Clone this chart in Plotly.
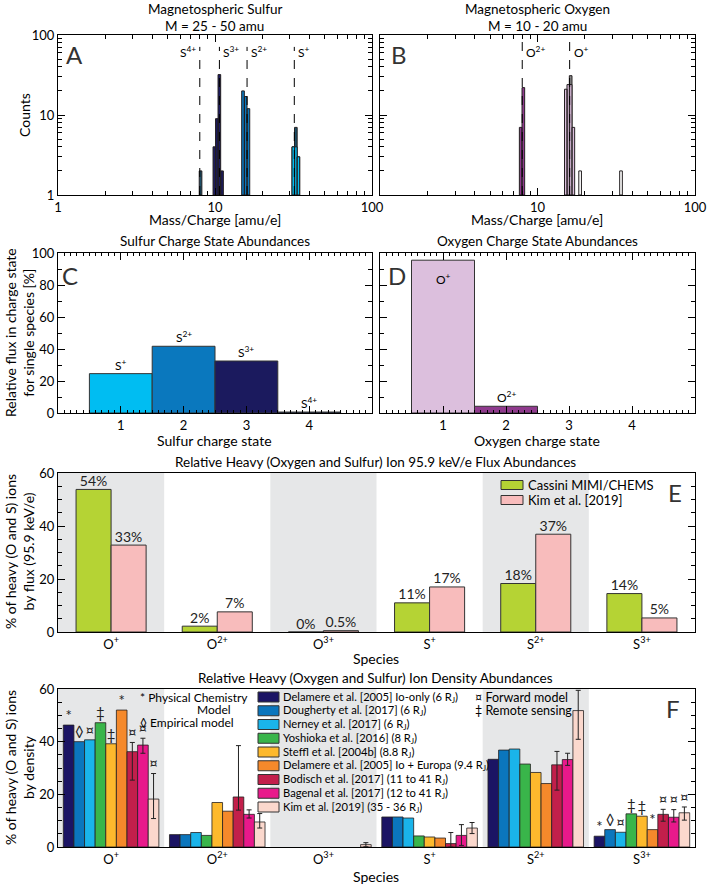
import numpy as np
import plotly.graph_objects as go

W, H = 709, 885
FONT = "Lato, 'Open Sans', 'DejaVu Sans', sans-serif"

# ---------------- Panel A: sulfur mass/charge histogram ----------------
s4_centers = [8.09]
s4_counts = [2]
s3_centers = [9.91, 10.28, 10.66, 11.09]
s3_counts = [4, 9, 32, 2]
s2_centers = [15.08, 15.69, 16.32]
s2_counts = [20, 17, 12]
s1_centers = [31.55, 32.73, 33.96]
s1_counts_total = [4, 7, 3]
s1_counts_front = [4, 4, 3]
sulfur_lines = [8.0, 10.67, 16.0, 32.0]
sulfur_line_labels = ["S<sup>4+</sup>", "S<sup>3+</sup>", "S<sup>2+</sup>", "S<sup>+</sup>"]

# ---------------- Panel B: oxygen mass/charge histogram ----------------
o2_centers = [7.82, 8.13]
o2_counts = [7, 22]
o1_overlap_centers = [16.24]
o1_overlap_counts = [31]
o1_centers = [15.13, 15.69, 16.24, 16.89]
o1_counts = [21, 24, 24, 7]
o_other_centers = [18.65, 33.9]
o_other_counts = [2, 2]
oxygen_lines = [8.0, 16.0]
oxygen_line_labels = ["O<sup>2+</sup>", "O<sup>+</sup>"]

# ---------------- Panels C, D: charge state abundances ----------------
charge_states = [1, 2, 3, 4]
sulfur_flux = [24.6, 41.7, 32.5, 0.6]
sulfur_state_labels = ["S<sup>+</sup>", "S<sup>2+</sup>", "S<sup>3+</sup>", "S<sup>4+</sup>"]
oxygen_flux = [95.5, 4.2, 0, 0]
oxygen_state_labels = ["O<sup>+</sup>", "O<sup>2+</sup>", "", ""]

# ---------------- Panel E: flux abundances ----------------
species = ["O<sup>+</sup>", "O<sup>2+</sup>", "O<sup>3+</sup>",
           "S<sup>+</sup>", "S<sup>2+</sup>", "S<sup>3+</sup>"]
cassini_flux = [53.8, 2.2, 0.0, 11.0, 18.3, 14.5]
kim_flux = [32.8, 7.6, 0.5, 17.0, 36.9, 5.3]
cassini_labels = ["54%", "2%", "0%", "11%", "18%", "14%"]
kim_labels = ["33%", "7%", "0.5%", "17%", "37%", "5%"]

# ---------------- Panel F: density abundances ----------------
density_refs = [
    "Delamere et al. [2005] Io-only (6 R<sub>J</sub>)",
    "Dougherty et al. [2017] (6 R<sub>J</sub>)",
    "Nerney et al. [2017] (6 R<sub>J</sub>)",
    "Yoshioka et al. [2016] (8 R<sub>J</sub>)",
    "Steffl et al. [2004b] (8.8 R<sub>J</sub>)",
    "Delamere et al. [2005] Io + Europa (9.4 R<sub>J</sub>)",
    "Bodisch et al. [2017] (11 to 41 R<sub>J</sub>)",
    "Bagenal et al. [2017] (12 to 41 R<sub>J</sub>)",
    "Kim et al. [2019] (35 - 36 R<sub>J</sub>)",
]
delamere_io = [46.3, 4.7, None, 11.4, 33.3, 4.1]
dougherty = [40.0, 4.7, None, 11.4, 36.8, 6.6]
nerney = [40.7, 5.5, None, 11.0, 37.2, 5.6]
yoshioka = [47.2, 4.4, None, 4.2, 31.5, 12.6]
steffl = [39.2, 16.9, None, 3.8, 28.3, 11.7]
delamere_ioeu = [52.0, 13.6, None, 3.4, 24.1, 6.6]
bodisch = [36.2, 19.0, None, 1.3, 31.2, 12.4]
bagenal = [38.7, 12.4, None, 4.4, 33.2, 11.3]
kim_density = [18.2, 9.5, 0.9, 7.2, 51.8, 13.0]
bodisch_err_plus = [3.5, 19.5, None, 4.2, 5.1, 1.9]
bodisch_err_minus = [10.8, 5.0, None, 1.3, 9.6, 2.6]
bagenal_err_plus = [2.6, 1.7, None, 4.1, 2.4, 2.9]
bagenal_err_minus = [3.1, 1.4, None, 3.8, 2.2, 1.8]
kim_err_plus = [9.7, 3.2, 0.75, 2.1, 7.7, 2.2]
kim_err_minus = [7.4, 2.3, 0.8, 2.1, 10.9, 2.8]
method_marks = ["*", "\u25ca", "\u00a4", "\u2021", "\u2021", "*", "\u00a4", "\u00a4", "\u00a4"]
marked_species = [0, 5]

density_values = [delamere_io, dougherty, nerney, yoshioka, steffl,
                  delamere_ioeu, bodisch, bagenal, kim_density]
density_err_plus = [None] * 6 + [bodisch_err_plus, bagenal_err_plus, kim_err_plus]
density_err_minus = [None] * 6 + [bodisch_err_minus, bagenal_err_minus, kim_err_minus]

# ---------------- styles ----------------
sulfur_colors = ["#00bdf2", "#0a78be", "#1b1a5e", "#1b2a55"]
teal = "#1e5068"
oxygen_colors = ["#dcbfdd", "#8f3a8d"]
density_colors = ["#1b1464", "#0b76bd", "#1ab4ea", "#39b54a", "#fdb92d",
                  "#f5892b", "#c21f4b", "#e8198b", "#fbd8cd"]
green_e, pink_e = "#b5d334", "#f8bcbc"
shade = "#e6e7e8"
edge = "#231f20"


def px(x):
    return x / W


def py(y):
    return 1 - y / H


fig = go.Figure()
DW = 0.0168


def hist(centers, counts, color, xa, ya):
    xs, ys = [], []
    for c, n in zip(centers, counts):
        lo, hi = c * 10 ** (-DW / 2), c * 10 ** (DW / 2)
        xs += [lo, lo, hi, hi, lo, None]
        ys += [1, n, n, 1, 1, None]
    fig.add_trace(go.Scatter(x=xs, y=ys, mode="lines", fill="toself", fillcolor=color,
                             line=dict(color=edge, width=1), xaxis=xa, yaxis=ya,
                             showlegend=False, hoverinfo="skip"))


# Panel A
hist(s4_centers, s4_counts, teal, "x", "y")
hist(s3_centers, s3_counts, sulfur_colors[2], "x", "y")
hist(s2_centers, s2_counts, sulfur_colors[1], "x", "y")
hist(s1_centers, s1_counts_total, teal, "x", "y")
hist(s1_centers, s1_counts_front, sulfur_colors[0], "x", "y")
# Panel B
hist(o2_centers, o2_counts, oxygen_colors[1], "x2", "y2")
hist(o1_overlap_centers, o1_overlap_counts, "#8a8a8a", "x2", "y2")
hist(o1_centers, o1_counts, oxygen_colors[0], "x2", "y2")
hist(o_other_centers, o_other_counts, "white", "x2", "y2")

annotations = []


def line_marks(lines, labels, top, xa, ya, left_first):
    for i, (m, lab) in enumerate(zip(lines, labels)):
        fig.add_trace(go.Scatter(x=[m, m], y=[1, top], mode="lines",
                                 line=dict(color="black", width=1, dash="dash"),
                                 xaxis=xa, yaxis=ya, showlegend=False, hoverinfo="skip"))
        left = left_first and i == 0
        annotations.append(dict(x=np.log10(m), y=np.log10(62), xref=xa, yref=ya, text=lab,
                                showarrow=False, xanchor="right" if left else "left",
                                xshift=-2 if left else 2,
                                font=dict(family=FONT, size=12, color="black")))


line_marks(sulfur_lines, sulfur_line_labels, 71, "x", "y", True)
line_marks(oxygen_lines, oxygen_line_labels, 90, "x2", "y2", False)

# Panel C, D
fig.add_trace(go.Bar(x=charge_states, y=sulfur_flux, width=1, marker=dict(color=sulfur_colors, line=dict(color="#333", width=1)),
                     xaxis="x3", yaxis="y3", showlegend=False, hoverinfo="skip"))
fig.add_trace(go.Bar(x=charge_states, y=oxygen_flux, width=1,
                     marker=dict(color=[oxygen_colors[0], oxygen_colors[1], "white", "white"],
                                 line=dict(color="#333", width=[1, 1, 0, 0])),
                     xaxis="x4", yaxis="y4", showlegend=False, hoverinfo="skip"))
for xa, ya, vals, labs in [("x3", "y3", sulfur_flux, sulfur_state_labels),
                           ("x4", "y4", oxygen_flux, oxygen_state_labels)]:
    for s, v, lab in zip(charge_states, vals, labs):
        if not lab:
            continue
        yy = v + 5.5 if v < 80 else v - 12
        annotations.append(dict(x=s, y=yy, xref=xa, yref=ya, text=lab, showarrow=False,
                                font=dict(family=FONT, size=12, color="black")))

# Panel E
idx = np.arange(len(species))
we = 0.33
for k, (vals, labs, col) in enumerate([(cassini_flux, cassini_labels, green_e), (kim_flux, kim_labels, pink_e)]):
    off = -we + k * we
    fig.add_trace(go.Bar(x=idx, y=vals, width=we, offset=off,
                         marker=dict(color=col, line=dict(color="#333", width=1)),
                         xaxis="x5", yaxis="y5", showlegend=False, hoverinfo="skip"))
    fig.add_trace(go.Scatter(x=idx + off + we / 2, y=vals, mode="text", text=labs,
                             textposition="top center", cliponaxis=False,
                             textfont=dict(family=FONT, size=14, color="#222"),
                             xaxis="x5", yaxis="y5", showlegend=False, hoverinfo="skip"))

# Panel F
wf = 0.1
for k, (vals, col) in enumerate(zip(density_values, density_colors)):
    off = -0.45 + k * wf
    err = None
    if density_err_plus[k] is not None:
        err = dict(type="data", symmetric=False, array=density_err_plus[k],
                   arrayminus=density_err_minus[k], color="#222", thickness=1, width=2.5)
    fig.add_trace(go.Bar(x=idx, y=vals, width=wf, offset=off, error_y=err,
                         marker=dict(color=col, line=dict(color=edge, width=0.8)),
                         xaxis="x6", yaxis="y6", showlegend=False, hoverinfo="skip"))
    sx, sy = [], []
    for j in marked_species:
        v = vals[j]
        e = density_err_plus[k][j] if density_err_plus[k] is not None else 0
        sx.append(j + off + wf / 2)
        sy.append(v + (e or 0) + 0.2)
    fig.add_trace(go.Scatter(x=sx, y=sy, mode="text", text=[method_marks[k]] * len(sx),
                             textposition="top center", cliponaxis=False,
                             textfont=dict(family=FONT, size=15, color="#222"),
                             xaxis="x6", yaxis="y6", showlegend=False, hoverinfo="skip"))

# shading
shapes = []
for xa, ya in [("x5", "y5"), ("x6", "y6")]:
    for i in [0, 2, 4]:
        shapes.append(dict(type="rect", xref=xa, yref=ya + " domain", x0=i - 0.5, x1=i + 0.5,
                           y0=0, y1=1, fillcolor=shade, line=dict(width=0), layer="below"))


def text(x, y, s, size=13, xanchor="center", angle=0, color="black"):
    annotations.append(dict(x=px(x), y=py(y), xref="paper", yref="paper", text=s, showarrow=False,
                            xanchor=xanchor, yanchor="middle", textangle=angle,
                            font=dict(family=FONT, size=size, color=color)))


# titles
text(215, 9, "Magnetospheric Sulfur", 13.5)
text(215, 26, "M = 25 - 50 amu", 13.5)
text(537, 9, "Magnetospheric Oxygen", 13.5)
text(537, 26, "M = 10 - 20 amu", 13.5)
text(215, 241, "Sulfur Charge State Abundances", 13.5)
text(537, 241, "Oxygen Charge State Abundances", 13.5)
text(376, 462, "Relative Heavy (Oxygen and Sulfur) Ion 95.9 keV/e Flux Abundances", 13.5)
text(376, 678, "Relative Heavy (Oxygen and Sulfur) Ion Density Abundances", 13.5)
# axis titles
text(215, 219, "Mass/Charge [amu/e]", 14)
text(537, 219, "Mass/Charge [amu/e]", 14)
text(24, 115, "Counts", 14, angle=-90)
text(19, 333, "Relative flux in charge state<br>for single species [%]", 14, angle=-90)
text(215, 440, "Sulfur charge state", 14)
text(537, 440, "Oxygen charge state", 14)
text(19, 552, "% of heavy (O and S) ions<br>by flux (95.9 keV/e)", 14, angle=-90)
text(376, 658, "Species", 14)
text(19, 768, "% of heavy (O and S) ions<br>by density", 14, angle=-90)
text(376, 876, "Species", 14)
# panel letters
text(74, 55, "A", 24, color="#333")
text(399, 55, "B", 24, color="#333")
text(70, 275, "C", 24, color="#333")
text(397, 275, "D", 24, color="#333")
text(675, 492, "E", 24, color="#333")
text(673, 708, "F", 24, color="#333")

# legend E
for k, (name, col) in enumerate([("Cassini MIMI/CHEMS", green_e), ("Kim et al. [2019]", pink_e)]):
    yc = 485 + 15 * k
    shapes.append(dict(type="rect", xref="paper", yref="paper", x0=px(501), x1=px(523),
                       y0=py(yc + 4.5), y1=py(yc - 4.5), fillcolor=col, line=dict(color="#333", width=1)))
    text(526, yc, name, 13, xanchor="left")

# legend F
for k, (name, col) in enumerate(zip(density_refs, density_colors)):
    yc = 697 + 13.75 * k
    shapes.append(dict(type="rect", xref="paper", yref="paper", x0=px(258), x1=px(279),
                       y0=py(yc + 5), y1=py(yc - 5), fillcolor=col, line=dict(color="#333", width=1)))
    text(281, yc, name, 11.2, xanchor="left")
text(138, 697, "* Physical Chemistry", 12, xanchor="left")
text(214, 709, "Model", 12)
text(138, 722, "\u25ca Empirical model", 12, xanchor="left")
text(473, 697, "\u00a4 Forward model", 12.5, xanchor="left")
text(473, 710, "\u2021 Remote sensing", 12.5, xanchor="left")

log_minor = [k * 10 ** e for e in (0, 1) for k in range(2, 10)]


def ax(domain, **kw):
    d = dict(domain=domain, showline=True, linecolor="black", linewidth=1.3, mirror="allticks",
             ticks="inside", ticklen=7, tickwidth=1, tickcolor="black", showgrid=False,
             zeroline=False, automargin=False,
             tickfont=dict(family=FONT, size=13, color="black"), fixedrange=True)
    d.update(kw)
    return d


lmin = dict(tickvals=log_minor, ticks="inside", ticklen=4, tickcolor="black", tickwidth=1)
AX, BX, EX = [px(58), px(372)], [px(380), px(695)], [px(58), px(695)]
ABY, CDY, EY, FY = [py(195), py(35)], [py(413), py(253)], [py(632), py(473)], [py(847), py(689)]

fig.update_layout(
    width=W, height=H, margin=dict(l=0, r=0, t=0, b=0, autoexpand=False),
    paper_bgcolor="white", plot_bgcolor="white", barmode="overlay",
    font=dict(family=FONT, color="black"),
    shapes=shapes, annotations=annotations,
    xaxis=ax(AX, anchor="y", type="log", range=[0, 2], tickvals=[1, 10, 100], ticktext=["1", "10", "100"], minor=lmin),
    yaxis=ax(ABY, anchor="x", type="log", range=[0, 2], tickvals=[1, 10, 100], ticktext=["1", "10", "100"], minor=lmin),
    xaxis2=ax(BX, anchor="y2", type="log", range=[0, 2], tickvals=[1, 10, 100], ticktext=["", "10", "100"], minor=lmin),
    yaxis2=ax(ABY, anchor="x2", type="log", range=[0, 2], tickvals=[1, 10, 100], showticklabels=False, minor=lmin),
    xaxis3=ax(AX, anchor="y3", range=[0, 5], tickvals=[1, 2, 3, 4],
              minor=dict(dtick=0.1, tick0=0, ticks="inside", ticklen=3, tickcolor="black")),
    yaxis3=ax(CDY, anchor="x3", range=[0, 100], tickvals=[0, 20, 40, 60, 80, 100],
              minor=dict(dtick=10, tick0=0, ticks="inside", ticklen=4, tickcolor="black")),
    xaxis4=ax(BX, anchor="y4", range=[0, 5], tickvals=[1, 2, 3, 4],
              minor=dict(dtick=0.1, tick0=0, ticks="inside", ticklen=3, tickcolor="black")),
    yaxis4=ax(CDY, anchor="x4", range=[0, 100], tickvals=[0, 20, 40, 60, 80, 100], showticklabels=False,
              minor=dict(dtick=10, tick0=0, ticks="inside", ticklen=4, tickcolor="black")),
    xaxis5=ax(EX, anchor="y5", range=[-0.5, 5.5], tickvals=list(idx), ticktext=species, ticks="", mirror=True),
    yaxis5=ax(EY, anchor="x5", range=[0, 60], tickvals=[0, 20, 40, 60],
              minor=dict(dtick=5, tick0=0, ticks="inside", ticklen=4, tickcolor="black")),
    xaxis6=ax(EX, anchor="y6", range=[-0.5, 5.5], tickvals=list(idx), ticktext=species, ticks="", mirror=True),
    yaxis6=ax(FY, anchor="x6", range=[0, 60], tickvals=[0, 20, 40, 60],
              minor=dict(dtick=5, tick0=0, ticks="inside", ticklen=4, tickcolor="black")),
)

fig.write_html("out.html", config={"displayModeBar": False},
               post_script="document.body.style.margin='0px';document.body.style.overflow='hidden';")
